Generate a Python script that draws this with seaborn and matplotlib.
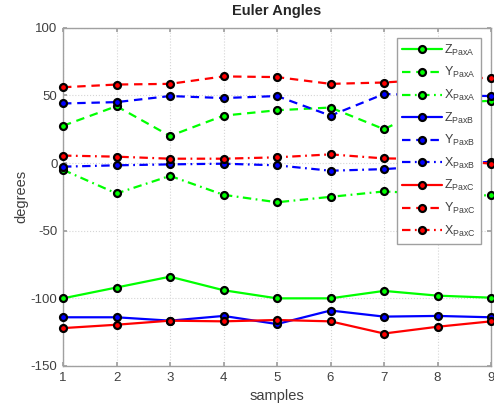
import matplotlib
matplotlib.use("Agg")
import matplotlib.pyplot as plt
import seaborn as sns
import numpy as np

samples = [1, 2, 3, 4, 5, 6, 7, 8, 9]

z_pax_a = [-100, -92, -84, -94, -100, -100, -94.5, -98, -99.5]
y_pax_a = [27.5, 42, 20, 35, 39, 41, 25, 44, 46]
x_pax_a = [-5, -22.5, -9.5, -23.5, -29, -25, -21, -23, -24]
z_pax_b = [-114, -114, -116.5, -113, -119, -109, -113.5, -113, -114]
y_pax_b = [44, 45, 49.5, 48, 49.5, 35, 51, 50, 49.5]
x_pax_b = [-2.7, -1.7, -1, -0.5, -1.7, -5.7, -4.5, -2, 1]
z_pax_c = [-122, -119.5, -116.5, -117, -116, -117, -126, -121, -117]
y_pax_c = [56, 58, 58.5, 64, 63.5, 58.5, 59.5, 62, 63]
x_pax_c = [5.5, 4.7, 3.2, 3.2, 4.2, 6.4, 3.4, 3, -0.5]

labels = [r"Z$_{\mathrm{PaxA}}$", r"Y$_{\mathrm{PaxA}}$", r"X$_{\mathrm{PaxA}}$",
          r"Z$_{\mathrm{PaxB}}$", r"Y$_{\mathrm{PaxB}}$", r"X$_{\mathrm{PaxB}}$",
          r"Z$_{\mathrm{PaxC}}$", r"Y$_{\mathrm{PaxC}}$", r"X$_{\mathrm{PaxC}}$"]
series = [z_pax_a, y_pax_a, x_pax_a, z_pax_b, y_pax_b, x_pax_b, z_pax_c, y_pax_c, x_pax_c]

yticks = [-150, -100, -50, 0, 50, 100]

sns.set_theme(style="white")
plt.rcParams["font.family"] = ["Liberation Sans", "DejaVu Sans"]
plt.rcParams["mathtext.fontset"] = "custom"
plt.rcParams["mathtext.rm"] = "Liberation Sans"
plt.rcParams["axes.unicode_minus"] = False

fig = plt.figure(figsize=(4.94, 4.09), dpi=100)
ax = fig.add_axes([63/494, 1-366/409, (491-63)/494, (366-27.7)/409])

colors = ["#00ff00", "#00ff00", "#00ff00", "#0000ff", "#0000ff", "#0000ff",
          "#ff0000", "#ff0000", "#ff0000"]
styles = ["solid", (0, (3.8, 2.6)), (0, (3.8, 2.0, 0.8, 2.0))] * 3

for vals, lab, col, ls in zip(series, labels, colors, styles):
    sns.lineplot(x=samples, y=vals, ax=ax, color=col, linestyle=ls, lw=1.6,
                 marker="o", markersize=5, markerfacecolor=col,
                 markeredgecolor="black", markeredgewidth=1.6, label=lab,
                 clip_on=False, zorder=3)

ax.set_xlim(1, 9)
ax.set_ylim(-150, 100)
ax.set_xticks(samples)
ax.set_yticks(yticks)
ax.grid(True, linestyle=":", color="#d5d5d5", linewidth=0.8)
for s in ax.spines.values():
    s.set_color("#a0a0a0")
    s.set_linewidth(1.0)
ax.tick_params(direction="in", length=3, colors="#a0a0a0", labelcolor="#404040",
               labelsize=9.5, left=True, bottom=True, right=True, top=True, pad=4)
ax.set_title("Euler Angles", fontsize=10.5, fontweight="bold", pad=9)
ax.set_xlabel("samples", fontsize=10.5, color="#404040", labelpad=4)
ax.set_ylabel("degrees", fontsize=10.5, color="#404040", labelpad=2)

leg = ax.legend(loc="upper right", fontsize=9, frameon=True, framealpha=1,
                fancybox=False, edgecolor="#a0a0a0", handlelength=3.2,
                handletextpad=0.2, labelspacing=0.6, borderpad=0.4,
                borderaxespad=0.8)
leg.get_frame().set_linewidth(1.0)
for t in leg.get_texts():
    t.set_color("#404040")

fig.savefig("out.png", dpi=100)
